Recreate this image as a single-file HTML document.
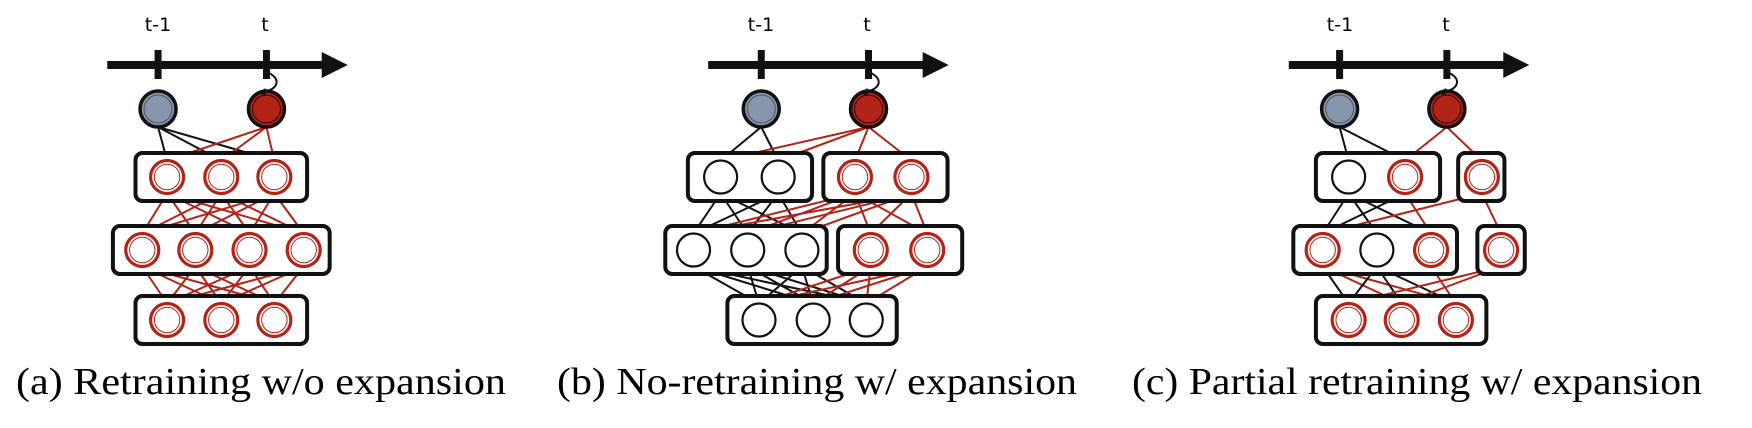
<!DOCTYPE html>
<html><head><meta charset="utf-8">
<style>
html,body{margin:0;padding:0;background:#fff;}
svg{display:block;}
.cap{font-family:"Liberation Serif",serif;font-size:38px;fill:#000;}
.lab{font-family:"DejaVu Sans","Liberation Sans",sans-serif;font-size:19px;fill:#000;}
</style></head>
<body>
<svg id="s" width="1752" height="428" viewBox="0 0 1752 428" xmlns="http://www.w3.org/2000/svg">
<g id="edges"></g>
<g id="boxes"></g>
<g id="nodes"></g>
<g id="axes"></g>
<text class="cap" x="16" y="394" textLength="490" lengthAdjust="spacingAndGlyphs">(a) Retraining w/o expansion</text>
<text class="cap" x="557" y="394" textLength="520" lengthAdjust="spacingAndGlyphs">(b) No-retraining w/ expansion</text>
<text class="cap" x="1132" y="394" textLength="570" lengthAdjust="spacingAndGlyphs">(c) Partial retraining w/ expansion</text>
<text class="lab" x="158" y="31" text-anchor="middle">t-1</text>
<text class="lab" x="265" y="31" text-anchor="middle">t</text>
<text class="lab" x="761" y="31" text-anchor="middle">t-1</text>
<text class="lab" x="867" y="31" text-anchor="middle">t</text>
<text class="lab" x="1340" y="31" text-anchor="middle">t-1</text>
<text class="lab" x="1446" y="31" text-anchor="middle">t</text>
</svg>
<script>
var NS="http://www.w3.org/2000/svg";
function el(g,t,a){var e=document.createElementNS(NS,t);for(var k in a)e.setAttribute(k,a[k]);document.getElementById(g).appendChild(e);return e;}
var R="#b22418",K="#111",G="#8796ad";
var y0=109,y1=177,y2=250,y3=320,r=16.5,rt=18;
var OFF=0,S=1.129;
function X(x){return OFF+(x-OFF)*S;}
function axis(x0,x1,t1,t2){
 x0=X(x0);x1=X(x1);t1=X(t1);t2=X(t2);
 el("axes","rect",{x:x0,y:61,width:x1-x0-24,height:8,fill:K});
 el("axes","polygon",{points:(x1-26)+",52 "+x1+",65 "+(x1-26)+",78",fill:K});
 el("axes","rect",{x:t1-3.5,y:50,width:7,height:29,fill:K});
 el("axes","rect",{x:t2-3.5,y:50,width:7,height:29,fill:K});
 el("axes","path",{d:"M"+t2+",72 C"+(t2+16)+",78 "+(t2+12)+",90 "+(t2-4)+",92",stroke:K,"stroke-width":2,fill:"none"});
 el("axes","polygon",{points:(t2-8)+",93 "+(t2-1)+",88 "+(t2-1)+",96",fill:K});
 el("nodes","circle",{cx:t1,cy:y0,r:rt,fill:G,stroke:K,"stroke-width":3.5});
 el("nodes","circle",{cx:t1,cy:y0,r:rt-4,fill:"none",stroke:"#556","stroke-width":1});
 el("nodes","circle",{cx:t2,cy:y0,r:rt,fill:R,stroke:K,"stroke-width":3.5});
 el("nodes","circle",{cx:t2,cy:y0,r:rt-4,fill:"none",stroke:"#300","stroke-width":1});
}
function box(x0,x1,y){x0=X(x0);x1=X(x1);el("boxes","rect",{x:x0,y:y-24,width:x1-x0,height:48,rx:7,fill:"#fff",stroke:K,"stroke-width":4});}
function node(x,y,red){
 x=X(x);
 if(red){el("nodes","circle",{cx:x,cy:y,r:r,fill:"#fff",stroke:R,"stroke-width":3.2});
  el("nodes","circle",{cx:x,cy:y,r:r-3.8,fill:"none",stroke:R,"stroke-width":1});}
 else el("nodes","circle",{cx:x,cy:y,r:r,fill:"#fff",stroke:K,"stroke-width":2.2});
}
function line(xa,ya,xb,yb,red){el("edges","line",{x1:X(xa),y1:ya,x2:X(xb),y2:yb,stroke:red?R:K,"stroke-width":2});}
function conn(xa,ya,xb,yb,red){line(xa,ya+(ya==y0?rt:r),xb,yb-r,red);}

/* Panel a */
OFF=0;
axis(95,308,140,236);
box(120,272,y1);box(100,292,y2);box(120,272,y3);
var a1=[148,196,243],a2=[126,173,221,269],a3=[148,196,243];
a1.forEach(function(x){conn(140,y0,x,y1,0);});
a1.forEach(function(x){conn(236,y0,x,y1,1);});
a1.forEach(function(p){a2.forEach(function(q){conn(p,y1,q,y2,1);});});
a2.forEach(function(p){a3.forEach(function(q){conn(p,y2,q,y3,1);});});
a1.forEach(function(x){node(x,y1,1)});a2.forEach(function(x){node(x,y2,1)});a3.forEach(function(x){node(x,y3,1)});

/* Panel b */
OFF=584;
axis(694,907,741,836);
box(676,786,y1);box(796,906,y1);box(656,799,y2);box(809,919,y2);box(711,861,y3);
var b1o=[705,756],b1n=[824,874],b2o=[681,729,777],b2n=[838,888],b3=[739,787,834];
b1o.forEach(function(x){conn(741,y0,x,y1,0);});
b1o.concat(b1n).forEach(function(x){conn(836,y0,x,y1,1);});
b1o.forEach(function(p){b2o.forEach(function(q){conn(p,y1,q,y2,0);});});
b1n.forEach(function(p){b2o.concat(b2n).forEach(function(q){conn(p,y1,q,y2,1);});});
b2o.forEach(function(p){b3.forEach(function(q){conn(p,y2,q,y3,0);});});
b2n.forEach(function(p){b3.forEach(function(q){conn(p,y2,q,y3,1);});});
b1o.forEach(function(x){node(x,y1,0)});b1n.forEach(function(x){node(x,y1,1)});
b2o.forEach(function(x){node(x,y2,0)});b2n.forEach(function(x){node(x,y2,1)});
b3.forEach(function(x){node(x,y3,0)});

/* Panel c */
OFF=1168;
axis(1275,1488,1320,1415);
box(1299,1409,y1);box(1425,1466,y1);box(1279,1424,y2);box(1442,1484,y2);box(1299,1450,y3);
conn(1320,y0,1328,y1,0);conn(1320,y0,1378,y1,0);
conn(1415,y0,1378,y1,1);conn(1415,y0,1446,y1,1);
conn(1328,y1,1305,y2,0);conn(1328,y1,1353,y2,0);conn(1328,y1,1401,y2,0);
conn(1378,y1,1305,y2,0);conn(1378,y1,1401,y2,1);
conn(1446,y1,1305,y2,1);conn(1446,y1,1463,y2,1);
conn(1305,y2,1328,y3,0);conn(1305,y2,1375,y3,1);conn(1305,y2,1423,y3,1);
conn(1353,y2,1328,y3,0);conn(1353,y2,1375,y3,0);conn(1353,y2,1423,y3,0);
conn(1401,y2,1423,y3,1);
conn(1463,y2,1328,y3,1);conn(1463,y2,1375,y3,1);
node(1328,y1,0);node(1378,y1,1);node(1446,y1,1);
node(1305,y2,1);node(1353,y2,0);node(1401,y2,1);node(1463,y2,1);
node(1328,y3,1);node(1375,y3,1);node(1423,y3,1);
</script>
</body></html>
